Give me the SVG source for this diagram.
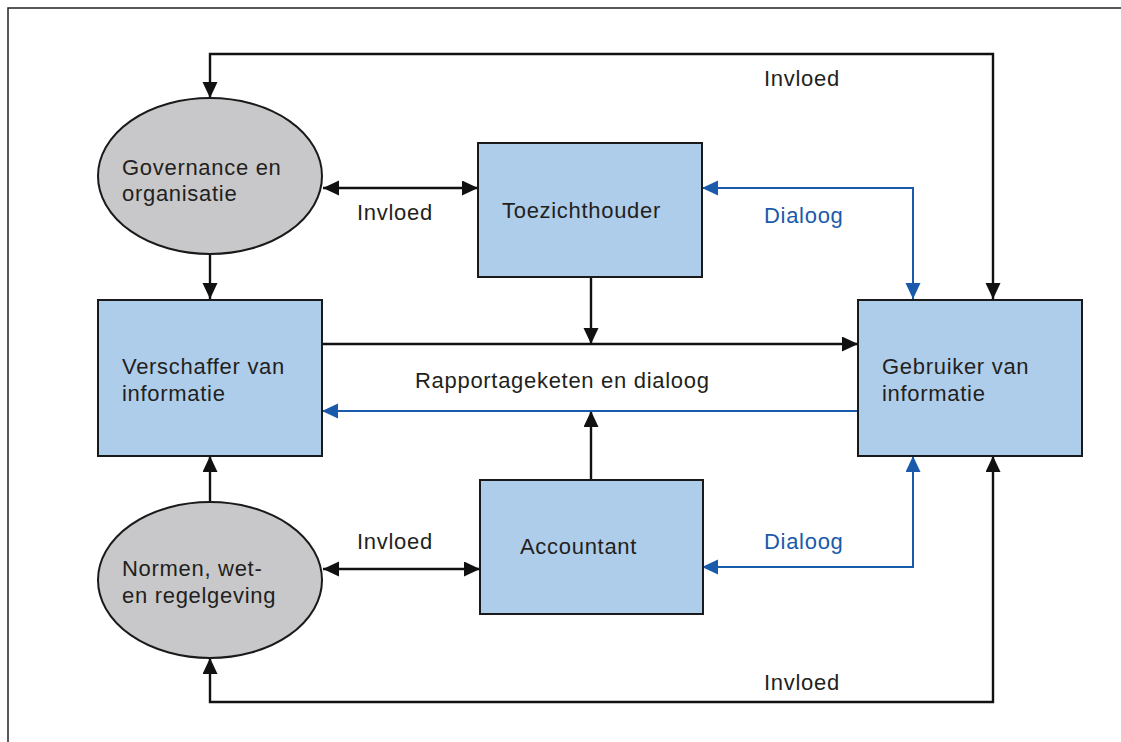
<svg xmlns="http://www.w3.org/2000/svg" width="1121" height="742" viewBox="0 0 1121 742">
<style>
.t{font-family:"Liberation Sans",Arial,sans-serif;font-size:22px;fill:#231f20;letter-spacing:0.7px}
.tb{font-family:"Liberation Sans",Arial,sans-serif;font-size:22px;fill:#1a5aab;letter-spacing:0.7px}
.box{fill:#aecdea;stroke:#1a1a1a;stroke-width:2}
.ell{fill:#c8c8ca;stroke:#1a1a1a;stroke-width:2}
.k{fill:none;stroke:#111;stroke-width:2.4}
.b{fill:none;stroke:#1a5aab;stroke-width:2}
</style>
<defs>
<marker id="ak" markerUnits="userSpaceOnUse" markerWidth="17" markerHeight="16" refX="16" refY="7.5" orient="auto-start-reverse" viewBox="0 0 17 16"><path d="M0,0 L16,7.5 L0,15 z" fill="#111"/></marker>
<marker id="ab" markerUnits="userSpaceOnUse" markerWidth="17" markerHeight="16" refX="16" refY="7.5" orient="auto-start-reverse" viewBox="0 0 17 16"><path d="M0,0 L16,7.5 L0,15 z" fill="#1a5aab"/></marker>
</defs>
<rect width="1121" height="742" fill="#fff"/>
<path d="M8,742 V8 H1121" fill="none" stroke="#222" stroke-width="1.5"/>

<g id="connectors">
<path class="k" d="M993,299 V54 H210 V98" marker-end="url(#ak)" marker-start="url(#ak)"/>
<path class="k" d="M993,456 V702 H210 V658" marker-end="url(#ak)" marker-start="url(#ak)"/>
<path class="k" d="M323,188 H478" marker-start="url(#ak)" marker-end="url(#ak)"/>
<path class="k" d="M323,569 H480" marker-start="url(#ak)" marker-end="url(#ak)"/>
<path class="k" d="M210,254 V299" marker-end="url(#ak)"/>
<path class="k" d="M210,501 V456" marker-end="url(#ak)"/>
<path class="k" d="M322,344 H858" marker-end="url(#ak)"/>
<path class="k" d="M591,277 V344" marker-end="url(#ak)"/>
<path class="k" d="M591,480 V411" marker-end="url(#ak)"/>
<path class="b" d="M858,411 H322" marker-end="url(#ab)"/>
<path class="b" d="M702,188 H913 V299" marker-start="url(#ab)" marker-end="url(#ab)"/>
<path class="b" d="M702,567 H913 V456" marker-start="url(#ab)" marker-end="url(#ab)"/>
<text class="t" x="764" y="86">Invloed</text>
<text class="t" x="764" y="690">Invloed</text>
<text class="t" x="357" y="220">Invloed</text>
<text class="t" x="357" y="549">Invloed</text>
<text class="t" x="415" y="388">Rapportageketen en dialoog</text>
<text class="tb" x="764" y="223">Dialoog</text>
<text class="tb" x="764" y="549">Dialoog</text>
</g>

<g id="governance">
<ellipse class="ell" cx="210" cy="176" rx="112" ry="78"/>
<text class="t" x="122" y="175">Governance en</text>
<text class="t" x="122" y="201">organisatie</text>
</g>
<g id="normen">
<ellipse class="ell" cx="210" cy="580" rx="112" ry="78"/>
<text class="t" x="122" y="576">Normen, wet-</text>
<text class="t" x="122" y="603">en regelgeving</text>
</g>
<g id="toezichthouder">
<rect class="box" x="478" y="143" width="224" height="134"/>
<text class="t" x="502" y="218">Toezichthouder</text>
</g>
<g id="accountant">
<rect class="box" x="480" y="480" width="223" height="134"/>
<text class="t" x="520" y="554">Accountant</text>
</g>
<g id="verschaffer">
<rect class="box" x="98" y="300" width="224" height="156"/>
<text class="t" x="122" y="374">Verschaffer van</text>
<text class="t" x="122" y="401">informatie</text>
</g>
<g id="gebruiker">
<rect class="box" x="858" y="300" width="224" height="156"/>
<text class="t" x="882" y="374">Gebruiker van</text>
<text class="t" x="882" y="401">informatie</text>
</g>
</svg>
